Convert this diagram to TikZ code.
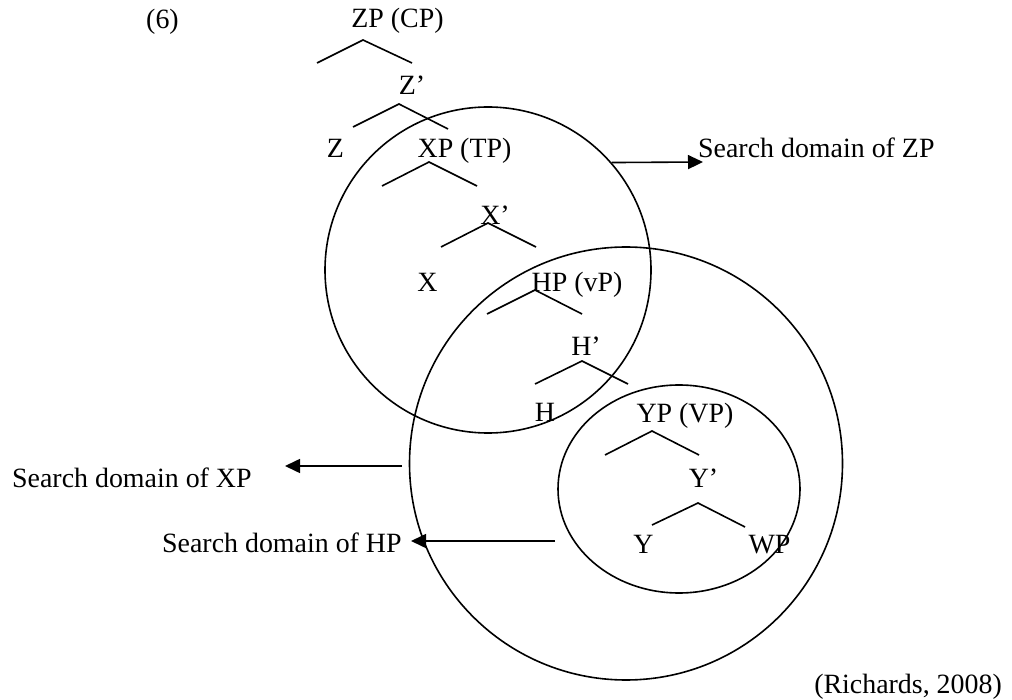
\documentclass[tikz,border=0pt]{standalone}
\usepackage{fontspec}
\setmainfont{Liberation Serif}
\usetikzlibrary{arrows.meta,shapes.geometric}
\begin{document}
\begin{tikzpicture}[x=1pt,y=-1pt,
  lab/.style={font=\fontsize{27.9}{33}\selectfont,inner sep=0pt,anchor=base},
  br/.style={line width=1.6pt},
  dom/.style={draw,line width=1.6pt,inner sep=0pt},
  arr/.style={line width=1.6pt,-{Triangle[length=15pt,width=14pt]}}]
\useasboundingbox (0,0) rectangle (1012,700);
% domains
\node[dom,circle,minimum size=326pt] (dZP) at (488,270) {};
\node[dom,circle,minimum size=433pt] (dXP) at (626,463.5) {};
\node[dom,ellipse,minimum width=242pt,minimum height=208pt] (dHP) at (679,489) {};
% labels
\node[lab] (n6) at (162.5,29) {(6)};
\node[lab] (ZP) at (397.5,28) {ZP (CP)};
\node[lab] (Zb) at (412,95) {Z’};
\node[lab] (Z) at (335.5,158) {Z};
\node[lab] (XP) at (464.5,158) {XP (TP)};
\node[lab] (Xb) at (495,225) {X’};
\node[lab] (X) at (427.5,292) {X};
\node[lab] (HP) at (577,292) {HP (vP)};
\node[lab] (Hb) at (586,356) {H’};
\node[lab] (H) at (545,421) {H};
\node[lab] (YP) at (685,423) {YP (VP)};
\node[lab] (Yb) at (703.5,487) {Y’};
\node[lab] (Y) at (643.5,553) {Y};
\node[lab] (WP) at (769.5,553) {WP};
\node[lab,anchor=base west] (sZP) at (698,158) {Search domain of ZP};
\node[lab,anchor=base west] (sXP) at (12,487) {Search domain of XP};
\node[lab,anchor=base west] (sHP) at (162,552) {Search domain of HP};
\node[lab,anchor=base east] (ref) at (1002,693) {(Richards, 2008)};
% branch coordinates
\coordinate (zpA) at (363,40);  \coordinate (zpL) at (317,63);  \coordinate (zpR) at (412,63);
\coordinate (zbA) at (399,104); \coordinate (zbL) at (353,127); \coordinate (zbR) at (448,129);
\coordinate (xpA) at (429,162); \coordinate (xpL) at (382,186); \coordinate (xpR) at (477,186);
\coordinate (xbA) at (488,223); \coordinate (xbL) at (441,247); \coordinate (xbR) at (536,247);
\coordinate (hpA) at (535,290); \coordinate (hpL) at (487,314); \coordinate (hpR) at (582,314);
\coordinate (hbA) at (582,361); \coordinate (hbL) at (535,384); \coordinate (hbR) at (628,384);
\coordinate (ypA) at (652,431); \coordinate (ypL) at (605,455); \coordinate (ypR) at (699,455);
\coordinate (ybA) at (698,503); \coordinate (ybL) at (652,525); \coordinate (ybR) at (745,527);
\draw[br] (zpL) -- (zpA) -- (zpR);
\draw[br] (zbL) -- (zbA) -- (zbR);
\draw[br] (xpL) -- (xpA) -- (xpR);
\draw[br] (xbL) -- (xbA) -- (xbR);
\draw[br] (hpL) -- (hpA) -- (hpR);
\draw[br] (hbL) -- (hbA) -- (hbR);
\draw[br] (ypL) -- (ypA) -- (ypR);
\draw[br] (ybL) -- (ybA) -- (ybR);
% arrows
\coordinate (tZP) at (703,162);
\coordinate (aXP) at (402,466); \coordinate (tXP) at (285,466);
\coordinate (aHP) at (555,541); \coordinate (tHP) at (411,541);
\draw[arr] (dZP.41.5) -- (tZP);
\draw[arr] (aXP) -- (tXP);
\draw[arr] (aHP) -- (tHP);
\end{tikzpicture}
\end{document}
